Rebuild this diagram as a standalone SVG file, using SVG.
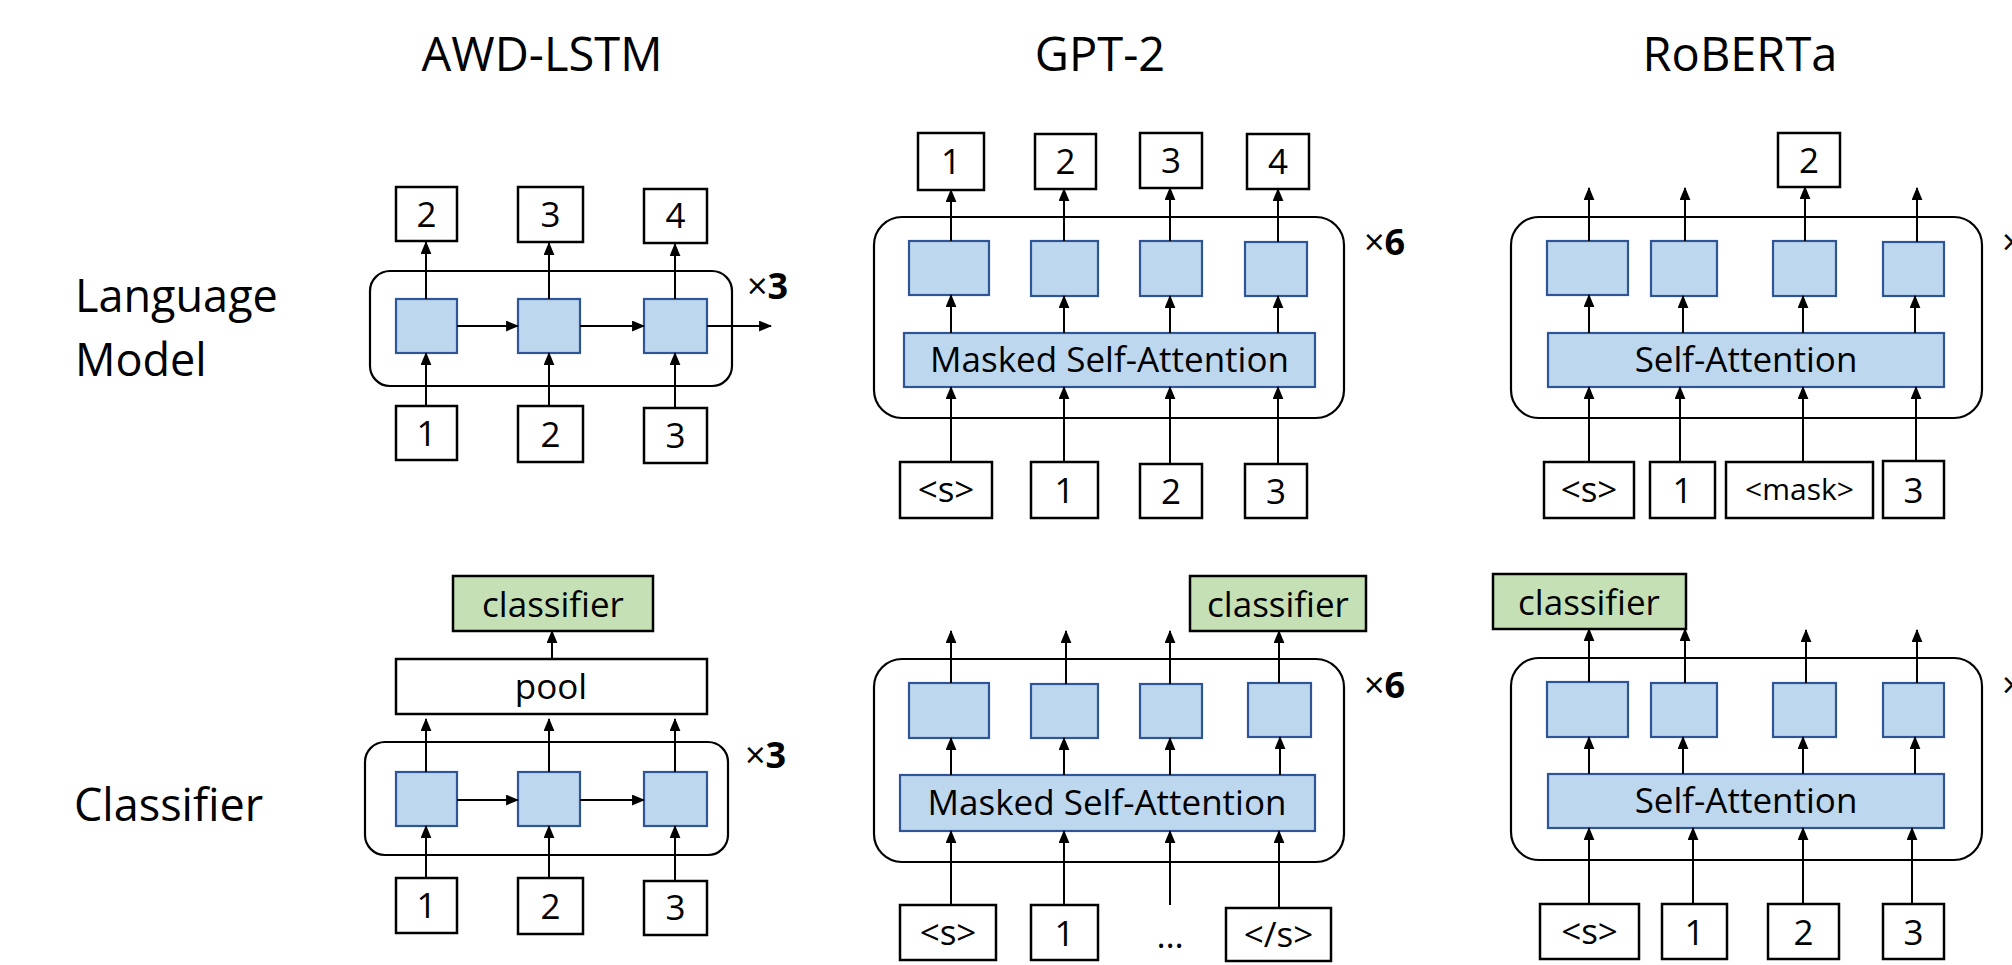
<svg xmlns="http://www.w3.org/2000/svg" width="2012" height="965" viewBox="0 0 2012 965">
<style>
text{font-family:"Open Sans","Noto Sans","Liberation Sans",sans-serif;fill:#000;font-weight:500}
.title{font-size:47px;text-anchor:middle}
.row{font-size:45px}
.t{font-size:35px;text-anchor:middle}
.sm{font-size:30px;text-anchor:middle}
.rep{font-size:36px}
.box{fill:#fff;stroke:#000;stroke-width:2.5}
.cls{fill:#C5E0B4;stroke:#000;stroke-width:2.5}
.blue{fill:#BDD7EE;stroke:#2F5597;stroke-width:2.2}
.cont{fill:none;stroke:#000;stroke-width:2.2}
.ar{stroke:#000;stroke-width:2;fill:none;marker-end:url(#ah)}
</style>
<defs>
<marker id="ah" viewBox="0 0 12 10" refX="11" refY="5" markerWidth="13" markerHeight="11" orient="auto" markerUnits="userSpaceOnUse"><path d="M0,0L12,5L0,10z" fill="#000"/></marker>
</defs>
<rect width="2012" height="965" fill="#fff"/>
<g id="titles">
<text class="title" x="542" y="71">AWD-LSTM</text>
<text class="title" x="1100" y="71">GPT-2</text>
<text class="title" x="1740" y="71">RoBERTa</text>
</g>
<g id="row-labels">
<text class="row" x="75" y="312">Language</text>
<text class="row" x="75" y="376">Model</text>
<text class="row" x="74" y="821">Classifier</text>
</g>

<!-- AWD-LSTM language model -->
<g id="awd-lm">
<rect class="cont" x="370" y="271" width="362" height="115" rx="20"/>
<rect class="box" x="396" y="187" width="61" height="54"/><text class="t" x="426.5" y="227">2</text>
<rect class="box" x="518" y="187" width="65" height="55"/><text class="t" x="550.5" y="227">3</text>
<rect class="box" x="644" y="189" width="63" height="54"/><text class="t" x="675.5" y="228">4</text>
<rect class="blue" x="396" y="299" width="61" height="54"/>
<rect class="blue" x="518" y="299" width="62" height="54"/>
<rect class="blue" x="644" y="299" width="63" height="54"/>
<rect class="box" x="396" y="406" width="61" height="54"/><text class="t" x="426.5" y="446">1</text>
<rect class="box" x="518" y="406" width="65" height="56"/><text class="t" x="550.5" y="447">2</text>
<rect class="box" x="644" y="408" width="63" height="55"/><text class="t" x="675.5" y="448">3</text>
<text class="rep" x="747" y="299">×<tspan font-weight="bold">3</tspan></text>
</g>

<!-- AWD-LSTM classifier -->
<g id="awd-cls">
<rect class="cls" x="453" y="576" width="200" height="55"/><text class="t" x="553" y="617">classifier</text>
<rect class="box" x="396" y="659" width="311" height="55"/><text class="t" x="551" y="699">pool</text>
<rect class="cont" x="365" y="742" width="363" height="113" rx="20"/>
<rect class="blue" x="396" y="772" width="61" height="54"/>
<rect class="blue" x="518" y="772" width="62" height="54"/>
<rect class="blue" x="644" y="772" width="63" height="54"/>
<rect class="box" x="396" y="878" width="61" height="55"/><text class="t" x="426.5" y="918">1</text>
<rect class="box" x="518" y="878" width="65" height="56"/><text class="t" x="550.5" y="919">2</text>
<rect class="box" x="644" y="881" width="63" height="54"/><text class="t" x="675.5" y="920">3</text>
<text class="rep" x="745" y="768">×<tspan font-weight="bold">3</tspan></text>
</g>

<!-- GPT-2 language model -->
<g id="gpt2-lm">
<rect class="cont" x="874" y="217" width="470" height="201" rx="28"/>
<rect class="box" x="918" y="133" width="66" height="57"/><text class="t" x="951" y="174">1</text>
<rect class="box" x="1035" y="134" width="61" height="55"/><text class="t" x="1065.5" y="174">2</text>
<rect class="box" x="1140" y="133" width="62" height="55"/><text class="t" x="1171" y="173">3</text>
<rect class="box" x="1247" y="134" width="62" height="55"/><text class="t" x="1278" y="174">4</text>
<rect class="blue" x="909" y="241" width="80" height="54"/>
<rect class="blue" x="1031" y="241" width="67" height="55"/>
<rect class="blue" x="1140" y="241" width="62" height="55"/>
<rect class="blue" x="1245" y="242" width="62" height="54"/>
<rect class="blue" x="904" y="333" width="411" height="54"/><text class="t" x="1109.5" y="372">Masked Self-Attention</text>
<rect class="box" x="900" y="462" width="92" height="56"/><text class="t" x="946" y="502">&lt;s&gt;</text>
<rect class="box" x="1031" y="462" width="67" height="56"/><text class="t" x="1064.5" y="503">1</text>
<rect class="box" x="1140" y="464" width="62" height="54"/><text class="t" x="1171" y="504">2</text>
<rect class="box" x="1245" y="464" width="62" height="54"/><text class="t" x="1276" y="504">3</text>
<text class="rep" x="1364" y="255">×<tspan font-weight="bold">6</tspan></text>
</g>

<!-- RoBERTa language model -->
<g id="roberta-lm">
<rect class="cont" x="1511" y="217" width="471" height="201" rx="28"/>
<rect class="box" x="1778" y="133" width="62" height="54"/><text class="t" x="1809" y="173">2</text>
<rect class="blue" x="1547" y="241" width="81" height="54"/>
<rect class="blue" x="1651" y="241" width="66" height="55"/>
<rect class="blue" x="1773" y="241" width="63" height="55"/>
<rect class="blue" x="1883" y="242" width="61" height="54"/>
<rect class="blue" x="1548" y="333" width="396" height="54"/><text class="t" x="1746" y="372">Self-Attention</text>
<rect class="box" x="1544" y="462" width="90" height="56"/><text class="t" x="1589" y="502">&lt;s&gt;</text>
<rect class="box" x="1650" y="462" width="65" height="56"/><text class="t" x="1682.5" y="503">1</text>
<rect class="box" x="1726" y="462" width="147" height="56"/><text class="sm" x="1799.5" y="500">&lt;mask&gt;</text>
<rect class="box" x="1883" y="461" width="61" height="57"/><text class="t" x="1913.5" y="503">3</text>
<text class="rep" x="2002" y="255">×<tspan font-weight="bold">6</tspan></text>
</g>

<!-- GPT-2 classifier -->
<g id="gpt2-cls">
<rect class="cls" x="1190" y="576" width="176" height="55"/><text class="t" x="1278" y="617">classifier</text>
<rect class="cont" x="874" y="659" width="470" height="203" rx="28"/>
<rect class="blue" x="909" y="683" width="80" height="55"/>
<rect class="blue" x="1031" y="684" width="67" height="54"/>
<rect class="blue" x="1140" y="684" width="62" height="54"/>
<rect class="blue" x="1248" y="683" width="63" height="54"/>
<rect class="blue" x="900" y="775" width="415" height="56"/><text class="t" x="1107" y="815">Masked Self-Attention</text>
<rect class="box" x="900" y="905" width="96" height="55"/><text class="t" x="948" y="945">&lt;s&gt;</text>
<rect class="box" x="1031" y="905" width="67" height="55"/><text class="t" x="1064.5" y="946">1</text>
<text class="t" x="1170" y="948">…</text>
<rect class="box" x="1226" y="908" width="105" height="53"/><text class="t" x="1278.5" y="947">&lt;/s&gt;</text>
<text class="rep" x="1364" y="698">×<tspan font-weight="bold">6</tspan></text>
</g>

<!-- RoBERTa classifier -->
<g id="roberta-cls">
<rect class="cls" x="1493" y="574" width="193" height="55"/><text class="t" x="1589" y="615">classifier</text>
<rect class="cont" x="1511" y="658" width="471" height="202" rx="28"/>
<rect class="blue" x="1547" y="682" width="81" height="55"/>
<rect class="blue" x="1651" y="683" width="66" height="54"/>
<rect class="blue" x="1773" y="683" width="63" height="54"/>
<rect class="blue" x="1883" y="683" width="61" height="54"/>
<rect class="blue" x="1548" y="774" width="396" height="54"/><text class="t" x="1746" y="813">Self-Attention</text>
<rect class="box" x="1540" y="904" width="99" height="55"/><text class="t" x="1589.5" y="944">&lt;s&gt;</text>
<rect class="box" x="1662" y="904" width="65" height="55"/><text class="t" x="1694.5" y="945">1</text>
<rect class="box" x="1768" y="904" width="71" height="55"/><text class="t" x="1803.5" y="945">2</text>
<rect class="box" x="1883" y="904" width="61" height="55"/><text class="t" x="1913.5" y="945">3</text>
<text class="rep" x="2002" y="698">×<tspan font-weight="bold">6</tspan></text>
</g>

<g id="connectors">
<!-- AWD LM -->
<path class="ar" d="M426,406V353"/><path class="ar" d="M549,406V353"/><path class="ar" d="M675,408V353"/>
<path class="ar" d="M426,299V242"/><path class="ar" d="M549,299V243"/><path class="ar" d="M675,299V244"/>
<path class="ar" d="M457,326H518"/><path class="ar" d="M580,326H644"/><path class="ar" d="M707,326H771"/>
<!-- AWD classifier -->
<path class="ar" d="M426,878V826"/><path class="ar" d="M549,878V826"/><path class="ar" d="M675,881V826"/>
<path class="ar" d="M457,800H518"/><path class="ar" d="M580,800H644"/>
<path class="ar" d="M426,772V719"/><path class="ar" d="M549,772V719"/><path class="ar" d="M675,772V719"/>
<path class="ar" d="M552,659V631"/>
<!-- GPT-2 LM -->
<path class="ar" d="M951,241V190"/><path class="ar" d="M1064,241V189"/><path class="ar" d="M1170,241V188"/><path class="ar" d="M1278,242V189"/>
<path class="ar" d="M951,333V295"/><path class="ar" d="M1064,333V296"/><path class="ar" d="M1170,333V296"/><path class="ar" d="M1278,333V296"/>
<path class="ar" d="M951,462V387"/><path class="ar" d="M1064,462V387"/><path class="ar" d="M1170,464V387"/><path class="ar" d="M1278,464V387"/>
<!-- RoBERTa LM -->
<path class="ar" d="M1589,241V188"/><path class="ar" d="M1685,241V188"/><path class="ar" d="M1805,241V187"/><path class="ar" d="M1917,242V188"/>
<path class="ar" d="M1589,333V295"/><path class="ar" d="M1683,333V296"/><path class="ar" d="M1803,333V296"/><path class="ar" d="M1915,333V296"/>
<path class="ar" d="M1589,462V387"/><path class="ar" d="M1680,462V387"/><path class="ar" d="M1803,462V387"/><path class="ar" d="M1916,461V387"/>
<!-- GPT-2 classifier -->
<path class="ar" d="M951,683V631"/><path class="ar" d="M1066,684V631"/><path class="ar" d="M1170,684V631"/><path class="ar" d="M1279,683V631"/>
<path class="ar" d="M951,775V738"/><path class="ar" d="M1064,775V738"/><path class="ar" d="M1170,775V738"/><path class="ar" d="M1280,775V737"/>
<path class="ar" d="M951,905V831"/><path class="ar" d="M1064,905V831"/><path class="ar" d="M1170,905V831"/><path class="ar" d="M1279,908V831"/>
<!-- RoBERTa classifier -->
<path class="ar" d="M1589,682V629"/><path class="ar" d="M1685,683V629"/><path class="ar" d="M1806,683V630"/><path class="ar" d="M1917,683V630"/>
<path class="ar" d="M1589,774V737"/><path class="ar" d="M1683,774V737"/><path class="ar" d="M1803,774V737"/><path class="ar" d="M1915,774V737"/>
<path class="ar" d="M1589,904V828"/><path class="ar" d="M1693,904V828"/><path class="ar" d="M1803,904V828"/><path class="ar" d="M1912,904V828"/>
</g>
</svg>
